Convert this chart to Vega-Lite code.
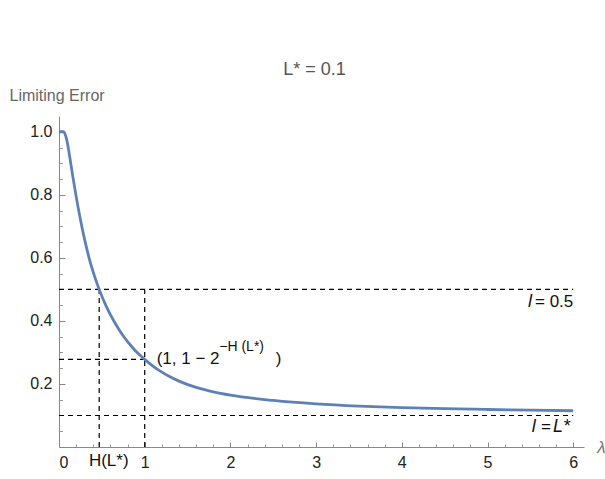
{
  "$schema": "https://vega.github.io/schema/vega-lite/v6.json",
  "width": 525,
  "height": 331,
  "autosize": "none",
  "padding": {"left": 59, "top": 116, "right": 21, "bottom": 32},
  "background": "white",
  "config": {
    "view": {"stroke": null},
    "font": "Liberation Sans",
    "axis": {"grid": false}
  },
  "title": {
    "text": "L* = 0.1",
    "frame": "group",
    "fontSize": 18,
    "fontWeight": "normal",
    "color": "#555555",
    "offset": 8,
    "dx": -7
  },
  "resolve": {"axis": {"x": "independent", "y": "independent"}},
  "layer": [
    {
      "data": {"values": [
        {"x1": 0, "x2": 6, "y1": 0.5, "y2": 0.5},
        {"x1": 0, "x2": 6, "y1": 0.1, "y2": 0.1},
        {"x1": 0, "x2": 1, "y1": 0.278, "y2": 0.278},
        {"x1": 0.469, "x2": 0.469, "y1": 0, "y2": 0.5},
        {"x1": 1, "x2": 1, "y1": 0, "y2": 0.5}
      ]},
      "mark": {"type": "rule", "color": "#000000", "strokeWidth": 1.2, "strokeDash": [5, 4]},
      "encoding": {
        "x": {"field": "x1", "type": "quantitative",
          "scale": {"domain": [0, 6.126], "nice": false, "zero": false},
          "axis": {"orient": "bottom", "values": [0.2,0.4,0.6,0.8,1.2,1.4,1.6,1.8,2.2,2.4,2.6,2.8,3.2,3.4,3.6,3.8,4.2,4.4,4.6,4.8,5.2,5.4,5.6,5.8],
            "labels": false, "domain": false, "tickSize": -3, "tickColor": "#999999", "title": null}},
        "x2": {"field": "x2"},
        "y": {"field": "y1", "type": "quantitative",
          "scale": {"domain": [0, 1.05], "nice": false, "zero": false},
          "axis": {"orient": "left", "values": [0.05,0.1,0.15,0.25,0.3,0.35,0.45,0.5,0.55,0.65,0.7,0.75,0.85,0.9,0.95],
            "labels": false, "domain": false, "tickSize": -3.5, "tickColor": "#999999", "title": null}},
        "y2": {"field": "y2"}
      }
    },
    {
      "data": {"values": [
        {"lambda": 0.0, "err": 1.0},
        {"lambda": 0.05, "err": 1.0},
        {"lambda": 0.07, "err": 0.993},
        {"lambda": 0.09, "err": 0.975},
        {"lambda": 0.11, "err": 0.946},
        {"lambda": 0.13, "err": 0.912},
        {"lambda": 0.16, "err": 0.86},
        {"lambda": 0.2, "err": 0.795},
        {"lambda": 0.25, "err": 0.722},
        {"lambda": 0.3, "err": 0.657},
        {"lambda": 0.35, "err": 0.601},
        {"lambda": 0.4, "err": 0.554},
        {"lambda": 0.469, "err": 0.5},
        {"lambda": 0.55, "err": 0.447},
        {"lambda": 0.65, "err": 0.395},
        {"lambda": 0.75, "err": 0.352},
        {"lambda": 0.85, "err": 0.318},
        {"lambda": 0.9, "err": 0.303},
        {"lambda": 0.95, "err": 0.29},
        {"lambda": 1.0, "err": 0.278},
        {"lambda": 1.1, "err": 0.256},
        {"lambda": 1.2, "err": 0.2375},
        {"lambda": 1.3, "err": 0.222},
        {"lambda": 1.4, "err": 0.209},
        {"lambda": 1.6, "err": 0.189},
        {"lambda": 1.8, "err": 0.175},
        {"lambda": 2.0, "err": 0.1646},
        {"lambda": 2.5, "err": 0.1476},
        {"lambda": 3.0, "err": 0.1366},
        {"lambda": 3.5, "err": 0.1296},
        {"lambda": 4.0, "err": 0.125},
        {"lambda": 4.5, "err": 0.1215},
        {"lambda": 5.0, "err": 0.119},
        {"lambda": 5.5, "err": 0.117},
        {"lambda": 6.0, "err": 0.115}
      ]},
      "mark": {"type": "line", "color": "#5E81B5", "strokeWidth": 2.8, "interpolate": "monotone"},
      "encoding": {
        "x": {"field": "lambda", "type": "quantitative",
          "scale": {"domain": [0, 6.126], "nice": false, "zero": false},
          "axis": {"orient": "bottom", "values": [0, 0.469, 1, 2, 3, 4, 5, 6],
            "labelExpr": "datum.value == 0.469 ? '' : datum.label",
            "tickSize": -5, "labelPadding": 12, "domainColor": "#888888", "tickColor": "#888888",
            "labelColor": "#222222", "labelFontSize": 16, "labelFont": "Liberation Sans",
            "title": "λ", "titleX": 542, "titleY": 0, "titleBaseline": "middle", "titleAlign": "center",
            "titleFontStyle": "italic", "titleFontWeight": "normal", "titleFontSize": 17, "titleColor": "#777777"}},
        "y": {"field": "err", "type": "quantitative",
          "scale": {"domain": [0, 1.05], "nice": false, "zero": false},
          "axis": {"orient": "left", "values": [0.2, 0.4, 0.6, 0.8, 1.0], "format": ".1f",
            "tickSize": -6, "labelPadding": 13, "domainColor": "#888888", "tickColor": "#888888",
            "labelColor": "#222222", "labelFontSize": 16,
            "title": "Limiting Error", "titleAngle": 0, "titleAlign": "left", "titleX": -50, "titleY": -21,
            "titleBaseline": "middle", "titleFontWeight": "normal", "titleFontSize": 16, "titleColor": "#666666"}}
      }
    },
    {
      "data": {"values": [
        {"x": 5.473, "y": 0.461, "t": "l"},
        {"x": 5.516, "y": 0.065, "t": "l"},
        {"x": 5.765, "y": 0.065, "t": "L*"}
      ]},
      "mark": {"type": "text", "align": "left", "baseline": "middle", "fontStyle": "italic", "fontSize": 18, "color": "#111111"},
      "encoding": {
        "x": {"field": "x", "type": "quantitative", "axis": null},
        "y": {"field": "y", "type": "quantitative", "axis": null},
        "text": {"field": "t"}
      }
    },
    {
      "data": {"values": [
        {"x": 5.554, "y": 0.461, "t": "=  0.5"},
        {"x": 5.625, "y": 0.065, "t": "="},
        {"x": 1.14, "y": 0.278, "t": "(1, 1 − 2"},
        {"x": 2.53, "y": 0.278, "t": ")"}
      ]},
      "mark": {"type": "text", "align": "left", "baseline": "middle", "fontSize": 17, "color": "#111111"},
      "encoding": {
        "x": {"field": "x", "type": "quantitative", "axis": null},
        "y": {"field": "y", "type": "quantitative", "axis": null},
        "text": {"field": "t"}
      }
    },
    {
      "data": {"values": [
        {"x": 0.58, "y": -0.043, "t": "H(L*)"}
      ]},
      "mark": {"type": "text", "align": "center", "baseline": "middle", "fontSize": 17, "color": "#111111", "clip": false},
      "encoding": {
        "x": {"field": "x", "type": "quantitative", "axis": null},
        "y": {"field": "y", "type": "quantitative", "axis": null},
        "text": {"field": "t"}
      }
    },
    {
      "data": {"values": [
        {"x": 1.87, "y": 0.316, "t": "−H  (L*)"}
      ]},
      "mark": {"type": "text", "align": "left", "baseline": "middle", "fontSize": 14, "color": "#111111"},
      "encoding": {
        "x": {"field": "x", "type": "quantitative", "axis": null},
        "y": {"field": "y", "type": "quantitative", "axis": null},
        "text": {"field": "t"}
      }
    }
  ]
}
